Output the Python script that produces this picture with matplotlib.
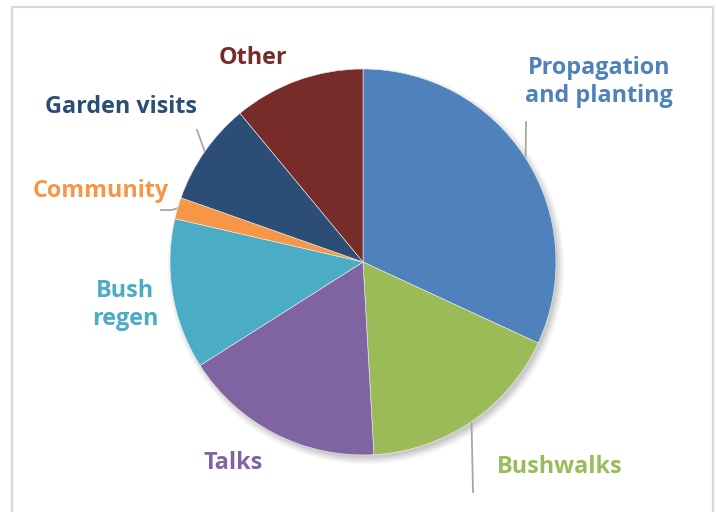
import numpy as np
import matplotlib.pyplot as plt
from matplotlib.patches import Circle, Rectangle

# slice data (clockwise from 12 o'clock)
labels = ['Propagation\nand planting', 'Bushwalks', 'Talks', 'Bush\nregen',
          'Community', 'Garden visits', 'Other']
values = [31.9, 17.2, 16.9, 12.6, 1.8, 8.6, 11.0]
colors = ['#4F81BD', '#9BBB59', '#8064A2', '#4BACC6', '#F79646', '#2C4D75', '#772C2A']

W, H = 716, 512
fig = plt.figure(figsize=(W / 100, H / 100), dpi=100)
ax = fig.add_axes([0, 0, 1, 1])
ax.set_xlim(0, W)
ax.set_ylim(0, H)
ax.set_aspect('equal')
ax.axis('off')

cx, cy, r = 363, H - 262, 193

# chart frame
ax.add_patch(Rectangle((11.5, -10), 701.5, H - 7 + 10, fill=False,
                       edgecolor='#D9D9D9', lw=1.6))

# soft shadow under the pie
for k, a in enumerate([0.04, 0.05, 0.06, 0.07]):
    ax.add_patch(Circle((cx + 3, cy - 4), r + 5 - k * 2, color='#000000',
                        alpha=a, lw=0, zorder=1))

wedges, _ = ax.pie(values, colors=colors, startangle=90, counterclock=False,
                   center=(cx, cy), radius=r, frame=True,
                   wedgeprops=dict(lw=0.4, edgecolor='#F0F0F0'))
for w in wedges:
    w.set_zorder(2)
ax.set_xlim(0, W)
ax.set_ylim(0, H)
ax.axis('off')

# label placement (pixel coords from the top) and leader ends
label_pos = [(599, 82), (560, 467), (233, 463), (125, 305),
             (101, 191), (121, 107), (253, 58)]
leader_end = {0: (526, 122), 1: (473, 492), 5: (197, 130), 4: (161, 210)}

for i, (lab, (lx, ly)) in enumerate(zip(labels, label_pos)):
    ax.text(lx, H - ly, lab, ha='center', va='center', color=colors[i],
            fontsize=16.8, fontweight='bold', family='Open Sans',
            linespacing=1.22, zorder=5)
    if i in leader_end:
        w = wedges[i]
        mid = np.deg2rad((w.theta1 + w.theta2) / 2)
        sx, sy = cx + r * np.cos(mid), cy + r * np.sin(mid)
        ex, ey = leader_end[i]
        if i == 4:
            ax.plot([sx, sx - 6, ex], [sy, H - ey, H - ey], color='#A6A6A6',
                    lw=1.3, zorder=1.5)
        else:
            ax.plot([sx, ex], [sy, H - ey], color='#A6A6A6', lw=1.3, zorder=1.5)

fig.savefig('out.png', dpi=100)
